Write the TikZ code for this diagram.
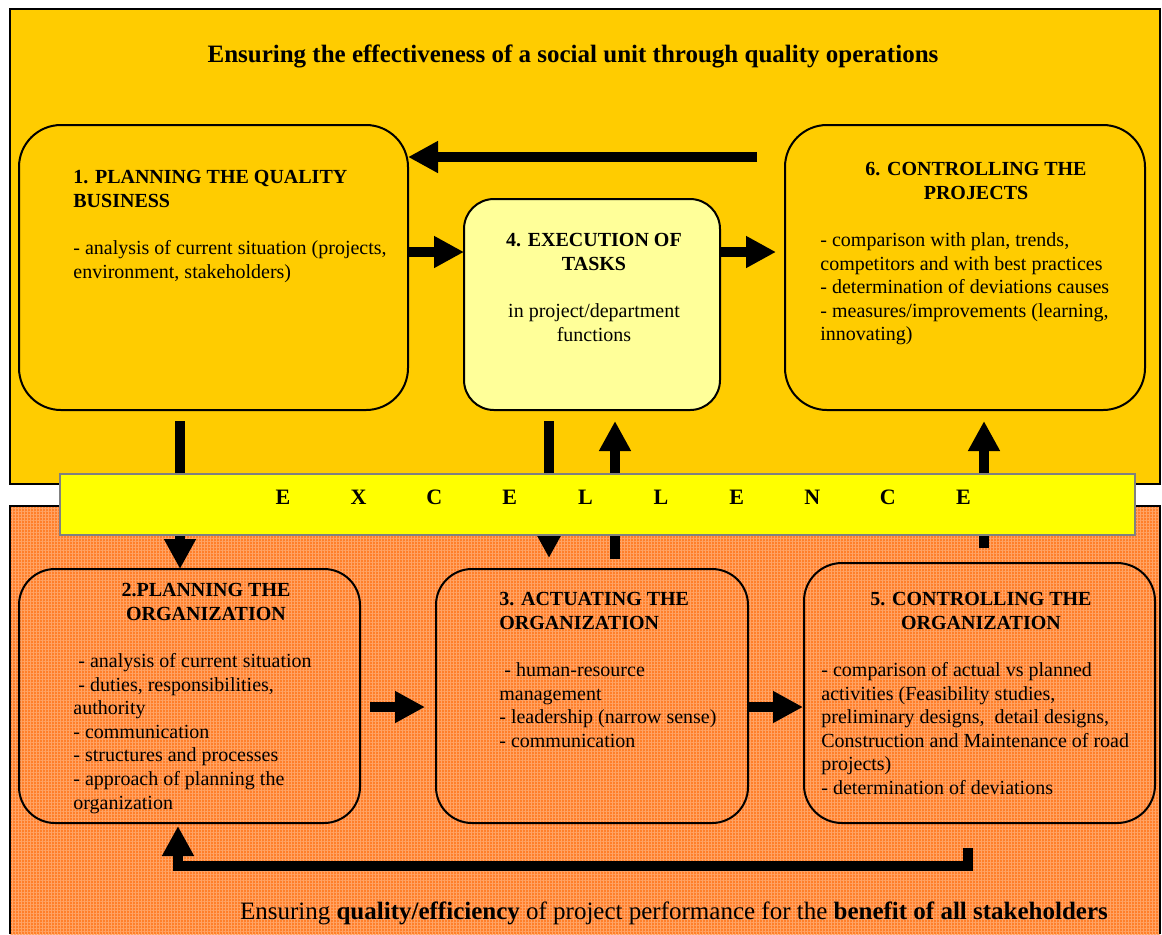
\documentclass[tikz,border=0pt]{standalone}
\usepackage{fontspec}
\setmainfont{Liberation Serif}
\usetikzlibrary{arrows.meta,patterns.meta}
\definecolor{topyellow}{HTML}{FFCC00}
\definecolor{bandyellow}{HTML}{FFFF00}
\definecolor{paleyellow}{HTML}{FFFF99}
\definecolor{orangebg}{HTML}{FF7F2A}
\definecolor{orangegrid}{HTML}{FFA466}
\definecolor{bandgray}{HTML}{808080}
\begin{document}
\begin{tikzpicture}[x=0.5pt,y=-0.5pt,
  box/.style={draw=black, line width=1pt, outer sep=0pt, inner sep=0pt},
  blk/.style={line width=5pt, -{Triangle[length=15pt,width=15pt]}},
  body/.style={anchor=north west, yshift=8.26pt, inner sep=0pt, align=left, font=\fontsize{10pt}{11.8pt}\selectfont},
  ctitle/.style={anchor=north, yshift=8.26pt, inner sep=0pt, align=center, font=\fontsize{10pt}{11.8pt}\selectfont\bfseries},
  cbody/.style={anchor=north, yshift=8.26pt, inner sep=0pt, align=center, font=\fontsize{10pt}{11.8pt}\selectfont},
  ltitle/.style={anchor=north west, yshift=8.26pt, inner sep=0pt, align=left, font=\fontsize{10pt}{11.8pt}\selectfont\bfseries},
  letter/.style={anchor=base, inner sep=0pt, font=\fontsize{11pt}{13pt}\selectfont\bfseries},
  headline/.style={anchor=base, inner sep=0pt, font=\fontsize{12.5pt}{15pt}\selectfont}]
\useasboundingbox (0,0) rectangle (1162,934);
\fill[white] (0,0) rectangle (1162,934);
% background areas
\draw[fill=topyellow, line width=1pt] (10,9) rectangle (1160,484);
\fill[orangebg] (10,506) rectangle (1160,934);
\fill[pattern={Lines[angle=0,distance=1.5pt,line width=0.3pt]}, pattern color=orangegrid] (10,506) rectangle (1160,934);
\fill[pattern={Lines[angle=90,distance=1.5pt,line width=0.3pt]}, pattern color=orangegrid] (10,506) rectangle (1160,934);
\draw[line width=1pt] (10,934) -- (10,506) -- (1160,506) -- (1160,934);
% boxes
\node[box, fill=topyellow, rounded corners=21pt, minimum width=194.5pt, minimum height=142.5pt] (b1) at (213.5,267.5) {};
\node[box, fill=paleyellow, rounded corners=15pt, minimum width=128pt, minimum height=105.5pt] (b4) at (592,304.5) {};
\node[box, fill=topyellow, rounded corners=21pt, minimum width=180pt, minimum height=142.5pt] (b6) at (965,267.5) {};
\node[box, rounded corners=18pt, minimum width=170.5pt, minimum height=127pt] (b2) at (189.5,696) {};
\node[box, rounded corners=18pt, minimum width=156pt, minimum height=127pt] (b3) at (592,696) {};
\node[box, rounded corners=19pt, minimum width=175.5pt, minimum height=130pt] (b5) at (979.5,693) {};
% connector anchor points
\coordinate (t6) at (757,157);
\coordinate (h14) at (408,252);
\coordinate (h46) at (720,252);
\coordinate (d12) at (180,421);
\coordinate (d43) at (549,421);
\coordinate (u34) at (615,559);
\coordinate (u56) at (984,548);
\coordinate (r23) at (370,707);
\coordinate (r35) at (748,707);
\coordinate (fb) at (968,848);
\coordinate (fbl) at (178,866);
% arrows
\draw[blk] (t6) -- (t6 -| b1.east);
\draw[blk] (h14) -- (h14 -| b4.west);
\draw[blk, shorten >=4.5pt] (h46) -- (h46 -| b6.west);
\draw[blk] (d12) -- (d12 |- b2.north);
\draw[blk, shorten >=5.5pt] (d43) -- (d43 |- b3.north);
\draw[blk, shorten >=5.5pt] (u34) -- (u34 |- b4.south);
\draw[blk, shorten >=5.5pt] (u56) -- (u56 |- b6.south);
\draw[blk, shorten >=5.5pt] (r23) -- (r23 -| b3.west);
\draw[blk, shorten >=0.5pt] (r35) -- (r35 -| b5.west);
\draw[blk, shorten >=1.5pt] (fb) |- (fbl) -- (fbl |- b2.south);
% excellence band
\node[draw=bandgray, line width=0.8pt, fill=bandyellow, outer sep=0pt, minimum width=537.5pt, minimum height=30.5pt] (band) at (597.5,504.5) {};
\foreach \l [count=\i from 0] in {E,X,C,E,L,L,E,N,C,E}
  \node[letter] (ex\i) at ({283+75.6*\i},504) {\l};
% headings
\node[headline] (top) at (573,62) {\bfseries Ensuring the effectiveness of a social unit through quality operations};
\node[headline] (bottom) at (674,919) {Ensuring \textbf{quality/efficiency} of project performance for the \textbf{benefit of all stakeholders}};
% box texts
\node[ltitle] (t1) at (73,183) {\strut 1. PLANNING THE QUALITY\\BUSINESS};
\node[body] (x1) at (73,254) {\strut - analysis of current situation (projects,\\environment, stakeholders)};
\node[ctitle] (t4) at (594,246) {\strut 4. EXECUTION OF\\TASKS};
\node[cbody] (x4) at (594,317) {\strut in project/department\\functions};
\node[ctitle] (t6t) at (976,175) {\strut 6. CONTROLLING THE\\PROJECTS};
\node[body] (x6) at (820,246) {\strut - comparison with plan, trends,\\competitors and with best practices\\- determination of deviations causes\\- measures/improvements (learning,\\innovating)};
\node[ctitle] (t2) at (206,596) {\strut 2.PLANNING THE\\ORGANIZATION};
\node[body] (x2) at (73,667) {\strut\ - analysis of current situation\\\ - duties, responsibilities,\\authority\\- communication\\- structures and processes\\- approach of planning the\\organization};
\node[ltitle] (t3) at (499,605) {\strut 3. ACTUATING THE\\ORGANIZATION};
\node[body] (x3) at (499,676) {\strut\ - human-resource\\management\\- leadership (narrow sense)\\- communication};
\node[ctitle] (t5) at (981,605) {\strut 5. CONTROLLING THE\\ORGANIZATION};
\node[body] (x5) at (821,676) {\strut - comparison of actual vs planned\\activities (Feasibility studies,\\preliminary designs,\ \ detail designs,\\Construction and Maintenance of road\\projects)\\- determination of deviations};
\end{tikzpicture}
\end{document}
